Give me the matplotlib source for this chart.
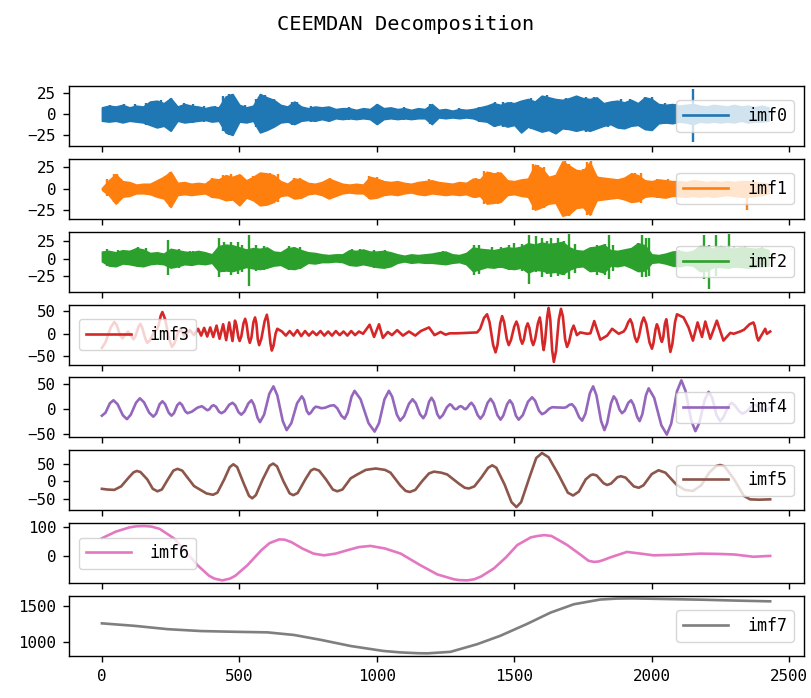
import numpy as np
import matplotlib
matplotlib.use("Agg")
import matplotlib.pyplot as plt
from matplotlib.lines import Line2D

plt.rcParams['font.family'] = ['DejaVu Sans Mono', 'DejaVu Sans']
plt.rcParams['axes.unicode_minus'] = True

# ---------------- data ----------------
names = ["imf0", "imf1", "imf2", "imf3", "imf4", "imf5", "imf6", "imf7"]
colors = ["#1f77b4", "#ff7f0e", "#2ca02c", "#d62728", "#9467bd", "#8c564b", "#e377c2", "#7f7f7f"]
title = "CEEMDAN Decomposition"
xticks = [0, 500, 1000, 1500, 2000, 2500]

# high-frequency IMFs: envelope of the dense oscillation sampled every 25 samples
env_x = np.arange(0, 2426, 25)
imf0_hi = [8, 10, 9, 11, 8, 10, 9, 15, 16, 13,
           19, 9, 12, 10, 9, 7, 9, 8, 21, 24,
           11, 8, 10, 24, 20, 17, 11, 9, 15, 9,
           7, 9, 8, 9, 6, 7, 7, 5, 7, 6,
           12, 7, 8, 6, 7, 5, 7, 6, 12, 5,
           6, 4, 6, 5, 6, 8, 10, 13, 11, 14,
           13, 16, 18, 15, 22, 20, 18, 17, 19, 22,
           19, 18, 20, 13, 15, 16, 14, 17, 13, 20,
           18, 12, 11, 12, 10, 11, 12, 10, 9, 11,
           10, 9, 11, 9, 10, 8, 10, 8]
imf0_lo = [-8, -9, -8, -10, -8, -9, -10, -13, -16, -14,
           -20, -8, -10, -9, -8, -7, -9, -8, -22, -25,
           -9, -10, -8, -22, -19, -15, -10, -9, -12, -8,
           -7, -8, -6, -8, -5, -6, -5, -6, -5, -6,
           -12, -6, -5, -6, -5, -6, -5, -5, -12, -4,
           -5, -4, -5, -4, -5, -8, -9, -14, -12, -15,
           -13, -22, -15, -18, -21, -19, -23, -17, -18, -20,
           -18, -20, -17, -14, -12, -16, -17, -14, -13, -18,
           -19, -11, -10, -11, -9, -10, -12, -9, -10, -9,
           -10, -9, -10, -8, -10, -9, -9, -8]
imf0_spike_x = [30, 80, 120, 160, 190, 215, 250, 300, 330, 370, 410, 440, 461, 475, 520, 560,
                578, 595, 625, 690, 710, 760, 830, 900, 1000, 1100, 1195, 1300, 1370, 1430,
                1460, 1490, 1523, 1560, 1600, 1620, 1640, 1690, 1730, 1760, 1790, 1840, 1890,
                1920, 1975, 2000, 2050, 2090, 2149]
imf0_spike_hi = [11, 12, 12, 13, 16, 17, 19, 13, 12, 10, 10, 22, 24, 24, 11, 18,
                 24, 23, 18, 15, 15, 10, 9, 8, 12, 8, 12, 7, 9, 14,
                 15, 15, 16, 19, 22, 23, 18, 19, 22, 20, 20, 15, 18,
                 18, 20, 21, 13, 12, 30]
imf0_spike_lo = [-10, -11, -10, -13, -16, -15, -20, -10, -11, -9, -10, -20, -25, -24, -10, -16,
                 -22, -20, -16, -13, -12, -9, -8, -7, -12, -7, -12, -6, -9, -15,
                 -16, -15, -22, -18, -21, -20, -23, -19, -20, -21, -19, -16, -17,
                 -16, -18, -19, -12, -11, -34]

imf1_hi = [1, 10, 17, 9, 8, 5, 6, 6, 10, 14,
           20, 7, 8, 6, 7, 6, 12, 11, 16, 14,
           17, 10, 14, 19, 18, 16, 9, 6, 12, 11,
           7, 6, 8, 12, 9, 6, 5, 6, 5, 14,
           12, 9, 8, 9, 7, 6, 8, 9, 10, 8,
           7, 6, 8, 7, 12, 11, 20, 18, 19, 10,
           9, 11, 12, 28, 24, 14, 16, 32, 27, 22,
           21, 31, 14, 13, 12, 11, 13, 18, 16, 10,
           9, 11, 10, 9, 9, 8, 10, 9, 8, 9,
           8, 9, 8, 9, 9, 8, 7, 6]
imf1_lo = [-1, -7, -17, -9, -8, -5, -5, -6, -9, -11,
           -21, -7, -6, -7, -6, -5, -9, -10, -13, -12,
           -19, -10, -13, -19, -18, -15, -8, -7, -11, -10,
           -6, -5, -7, -11, -8, -5, -4, -5, -5, -11,
           -10, -7, -6, -7, -5, -4, -6, -7, -5, -6,
           -7, -6, -7, -6, -9, -8, -17, -16, -15, -7,
           -6, -8, -9, -24, -21, -17, -16, -31, -29, -22,
           -21, -30, -13, -12, -11, -10, -12, -15, -14, -9,
           -8, -9, -10, -8, -8, -9, -8, -9, -8, -9,
           -8, -7, -8, -9, -9, -8, -7, -5]
imf1_spike_x = [20, 45, 55, 70, 210, 230, 248, 400, 440, 470, 505, 550, 590, 610, 640, 700,
                720, 830, 970, 1000, 1020, 1190, 1360, 1390, 1410, 1440, 1570, 1588, 1610,
                1650, 1683, 1700, 1720, 1750, 1765, 1780, 1800, 1900, 1930, 1940, 1960,
                2020, 2060, 2346]
imf1_spike_hi = [11, 17, 17, 12, 12, 15, 20, 13, 16, 17, 16, 15, 19, 19, 17, 13,
                 13, 13, 15, 14, 10, 11, 13, 21, 20, 20, 29, 28, 26,
                 16, 32, 29, 23, 23, 31, 33, 15, 13, 19, 18, 19,
                 11, 11, 9]
imf1_spike_lo = [-8, -15, -17, -10, -10, -12, -21, -10, -13, -14, -19, -14, -19, -18, -15, -12,
                 -11, -12, -12, -11, -8, -6, -10, -18, -17, -17, -25, -24, -22,
                 -18, -31, -31, -23, -22, -30, -30, -14, -12, -16, -15, -16,
                 -10, -10, -24]

imf2_hi = [10, 11, 9, 12, 11, 15, 13, 8, 9, 7,
           14, 12, 10, 9, 11, 9, 6, 18, 20, 19,
           16, 13, 15, 14, 16, 10, 9, 15, 16, 12,
           9, 8, 6, 5, 6, 6, 12, 11, 13, 10,
           10, 11, 9, 6, 4, 6, 5, 6, 7, 9,
           10, 6, 5, 8, 16, 14, 13, 12, 14, 16,
           15, 17, 22, 20, 23, 21, 22, 24, 16, 12,
           11, 16, 17, 20, 12, 11, 13, 15, 22, 19,
           6, 5, 7, 10, 11, 9, 11, 18, 17, 14,
           18, 15, 14, 16, 15, 14, 15, 12]
imf2_lo = [-4, -10, -11, -7, -8, -10, -11, -8, -7, -8,
           -13, -11, -8, -9, -7, -8, -6, -18, -17, -18,
           -15, -12, -14, -15, -13, -10, -9, -14, -15, -12,
           -6, -7, -5, -5, -4, -5, -9, -10, -8, -10,
           -12, -13, -11, -6, -4, -6, -5, -6, -6, -7,
           -8, -6, -5, -8, -18, -15, -12, -13, -11, -14,
           -15, -13, -20, -16, -17, -20, -19, -22, -16, -12,
           -11, -18, -17, -20, -10, -11, -9, -13, -18, -17,
           -6, -5, -7, -10, -11, -9, -10, -18, -17, -12,
           -12, -13, -11, -12, -13, -12, -11, -10]
imf2_spike_x = [20, 60, 110, 130, 160, 242, 280, 320, 330, 425, 445, 470, 495, 510, 535, 560,
                590, 680, 700, 720, 910, 940, 990, 1030, 1240, 1355, 1370, 1420, 1450, 1480,
                1500, 1530, 1553, 1580, 1600, 1620, 1635, 1660, 1680, 1700, 1720, 1800, 1830,
                1845, 1860, 1950, 1965, 1980, 1990, 2100, 2170, 2190, 2210, 2235, 2280, 2300,
                2340, 2400]
imf2_spike_hi = [14, 12, 13, 16, 15, 27, 14, 11, 11, 29, 24, 24, 24, 20, 34, 20,
                 18, 18, 17, 16, 14, 14, 12, 12, 11, 20, 20, 16, 16, 20,
                 22, 21, 34, 32, 30, 25, 30, 29, 26, 36, 21, 20, 21,
                 34, 20, 22, 34, 30, 30, 12, 12, 34, 20, 34, 36, 18,
                 18, 16]
imf2_spike_lo = [-11, -11, -8, -12, -11, -23, -14, -9, -9, -27, -20, -23, -22, -19, -39, -18,
                 -17, -17, -16, -15, -11, -11, -13, -14, -9, -23, -22, -14, -14, -16,
                 -17, -18, -37, -20, -27, -22, -27, -25, -24, -30, -21, -23, -24,
                 -30, -18, -17, -27, -26, -25, -12, -12, -30, -44, -25, -15, -14,
                 -14, -14]

# lower-frequency IMFs: points
imf3_x = [0, 13, 32, 45, 54, 66, 75, 95, 115, 122, 133, 140, 147, 158, 165, 175, 190, 200, 206, 214,
          220, 230, 245, 255, 264, 276, 285, 300, 320, 335,
          350, 361, 372, 383, 394, 405, 417, 428, 441, 452, 463, 475,
          484, 489, 496, 501, 507, 515, 521, 526, 533, 538, 544, 551, 557, 562, 567, 572,
          580, 592, 600, 605, 613, 618, 624, 632, 638,
          655, 669, 683, 697, 711, 725, 739, 753, 767, 781, 795, 809, 823, 837, 851, 865,
          879, 893, 907, 921, 935, 950,
          974, 990, 1008, 1022, 1040, 1055, 1074, 1095, 1117, 1140, 1160, 1190, 1210, 1232,
          1250, 1265, 1290, 1365,
          1376, 1390, 1401, 1410, 1423, 1432, 1439, 1449, 1456, 1463, 1473, 1480, 1488, 1500,
          1508, 1514, 1523, 1529, 1535, 1543, 1549, 1555, 1563, 1569, 1576, 1586, 1593, 1597,
          1603, 1607, 1612, 1620, 1625, 1631, 1638, 1644, 1652, 1662, 1670, 1677, 1685, 1692,
          1699, 1709, 1716, 1728, 1740, 1765, 1777, 1791, 1813, 1838, 1856, 1880, 1898,
          1905, 1915, 1922, 1929, 1939, 1946, 1953, 1964, 1971, 1980, 1992, 2001, 2006, 2014,
          2019, 2024, 2032, 2037, 2042, 2048, 2053, 2057, 2064, 2068, 2075, 2085, 2092,
          2116, 2134, 2150, 2167, 2183, 2195, 2213, 2237, 2261, 2286, 2298, 2322,
          2336, 2356, 2370, 2375, 2383, 2388, 2413, 2419, 2431]
imf3_v = [-31, -19, 14, 26, 19, -3, -10, 5, -12, -5, 15, 22, 13, -11, -20, -14, 4, 10, 18, 40,
          48, 32, -13, -29, -21, 2, 10, -5, 8, -3,
          11, -4, 13, -6, 14, -7, 18, -11, 21, -14, 25, -16,
          29, 20, -7, -16, -6, 23, 33, 22, -9, -20, -8, 25, 36, 23, -12, -25,
          -11, 28, 42, 26, -21, -37, -27, 1, 11,
          5, -4, 6, -4, 8, -5, 6, -4, 5, -3, 6, -4, 5, -4, 6, -3,
          5, -4, 6, -3, 5, 0,
          20, -7, 21, -9, 4, -3, 8, -4, 5, -4, 6, 14, -3, 4,
          -2, 1, 1, 3,
          11, 35, 43, 26, -24, -41, -25, 23, 39, 26, -12, -25, -14, 16,
          27, 17, -12, -22, -13, 14, 23, 13, -15, -25, -12, 23, 36, 21,
          -21, -36, -17, 38, 57, 32, -37, -62, -38, 31, 55, 38, -12, -29,
          -19, 8, 18, -3, 3, 0, 1, 28, -13, -4, 11, 0, 5,
          11, 26, 32, 22, -8, -18, -7, 25, 36, 22, -19, -33, -22, 10,
          21, 13, -10, -18, -8, 22, 32, 17, -25, -40, -23, 26, 43,
          36, 14, -15, 25, -7, 27, -11, 29, -15, 2, 0, 5,
          9, 21, 25, 17, -7, -15, 11, 0, 5]

imf4_x = [0, 13, 29, 42, 57, 76, 91, 105, 124, 138, 153, 172, 187, 197, 210, 220, 230, 243, 253,
          262, 274, 283, 291, 303, 311, 327, 347, 363, 369, 378, 384, 391, 399, 406, 415, 426,
          435, 447, 463, 475, 485, 497, 507, 518, 533, 544, 553, 566, 575, 590, 609, 624, 638,
          658, 672, 689, 710, 727, 735, 745, 753, 760, 771, 778, 788, 798, 812, 830, 844, 856,
          871, 883, 894, 908, 919, 941, 970, 992, 1008, 1028, 1044, 1056, 1073, 1085, 1099,
          1117, 1130, 1142, 1157, 1169, 1178, 1190, 1199, 1208, 1220, 1229, 1240, 1255, 1266,
          1272, 1280, 1286, 1292, 1299, 1305, 1310, 1318, 1323, 1329, 1338, 1344, 1354, 1367,
          1377, 1388, 1403, 1414, 1425, 1439, 1450, 1460, 1474, 1484, 1494, 1506, 1516, 1531,
          1550, 1565, 1576, 1590, 1601, 1612, 1627, 1638, 1680, 1689, 1701, 1710, 1721, 1736,
          1747, 1759, 1775, 1787, 1799, 1816, 1828, 1838, 1852, 1862, 1871, 1883, 1892, 1902,
          1915, 1925, 1934, 1947, 1956, 1966, 1979, 1989, 2009, 2035, 2055, 2071, 2092, 2108,
          2123, 2144, 2159, 2173, 2193, 2207, 2220, 2236, 2249, 2261, 2278, 2290, 2302, 2318,
          2330, 2344, 2362, 2375, 2386, 2400, 2410, 2431]
imf4_v = [-14, -8, 11, 17, 9, -13, -21, -12, 12, 21, 13, -8, -16, -10, 9, 15, 9, -8, -14,
          -9, 7, 12, 8, -5, -9, -6, 2, 5, 3, -1, -3, -1, 5, 7, 4, -6,
          -9, -5, 8, 12, 7, -7, -12, -6, 11, 17, 8, -18, -27, -12, 30, 45, 27,
          -25, -43, -29, 11, 25, 18, -4, -11, -8, 1, 4, 3, 1, 2, 6, 7, 1,
          -14, -20, -8, 24, 36, 19, -29, -46, -29, 19, 36, 24, -12, -24, -15,
          10, 19, 11, -11, -19, -11, 14, 22, 14, -11, -19, -13, 3, 9,
          7, 1, -1, 0, 4, 5, 4, 0, -1, 2, 9, 12, 5, -13,
          -20, -12, 12, 20, 11, -13, -22, -14, 9, 17, 9, -14, -22, -13,
          14, 23, 16, -4, -11, -8, 0, 3, 2, 3, 8, 9, 2, -17,
          -24, -10, 31, 45, 27, -25, -43, -29, 11, 25, 18, -2, -9, -4,
          12, 17, 8, -16, -25, -11, 27, 41, 22, -33, -52, -30, 35, 57,
          36, -24, -45, -29, 18, 34, 22, -13, -25, -17, 4, 12, 7, -5,
          -10, -6, 4, 8, 5, -2, -5, 2]

imf5_x = [0, 20, 45, 70, 95, 115, 127, 140, 165, 185, 202, 218, 240, 260, 275, 292, 335, 380,
          404, 420, 445, 465, 478, 492, 515, 535, 547, 560, 585, 610, 623, 637, 660, 683, 696,
          712, 740, 760, 772, 790, 815, 840, 856, 875, 905, 929, 960, 996, 1030, 1050, 1085,
          1105, 1120, 1140, 1165, 1190, 1208, 1235, 1256, 1300, 1320, 1335, 1355, 1380, 1405,
          1420, 1435, 1465, 1490, 1508, 1525, 1555, 1580, 1601, 1625, 1660, 1695, 1714, 1735,
          1760, 1778, 1787, 1800, 1825, 1838, 1852, 1875, 1888, 1905, 1935, 1953, 1970, 2000,
          2025, 2050, 2090, 2120, 2150, 2180, 2210, 2235, 2249, 2265, 2300, 2335, 2358, 2390, 2431]
imf5_v = [-22, -24, -25, -15, 8, 25, 29, 26, 5, -22, -29, -24, 5, 30, 35, 30, -14, -35,
          -39, -33, 5, 40, 48, 40, -5, -42, -49, -40, 5, 44, 50, 42, 0, -35, -40,
          -34, 5, 30, 35, 30, 5, -24, -29, -24, 8, 19, 32, 36, 32, 24, -12,
          -28, -31, -25, 0, 22, 27, 24, 19, -8, -19, -21, -15, 10, 38,
          45, 38, -10, -60, -74, -60, 10, 66, 80, 68, 20, -33, -41, -30,
          5, 17, 19, 16, -6, -11, -7, 11, 14, 10, -15, -19, -12, 20,
          31, 24, -10, -25, -28, -12, 25, 43, 46, 42, 5, -42, -52, -53, -52]

imf6_x = [0, 50, 100, 125, 154, 180, 210, 263, 305, 348, 390, 410, 438, 465, 485, 529, 580,
          610, 645, 665, 690, 729, 770, 808, 850, 893, 935, 977, 1030, 1087, 1159, 1220, 1280,
          1300, 1329, 1355, 1380, 1426, 1470, 1511, 1560, 1585, 1610, 1635, 1650, 1693, 1740,
          1770, 1789, 1805, 1820, 1850, 1910, 1960, 2007, 2090, 2178, 2240, 2300, 2370, 2431]
imf6_v = [62, 85, 100, 104, 105, 103, 95, 61, 15, -33, -70, -80, -86, -80, -70, -33, 20,
          45, 58, 57, 48, 26, 8, 2, 8, 20, 31, 35, 26, 8, -33, -65, -82,
          -85, -86, -82, -72, -44, -5, 38, 65, 70, 73, 70, 62, 38, 5,
          -17, -21, -20, -16, -5, 14, 8, 2, 4, 8, 7, 5, -3, 0]

imf7_x = [0, 118, 239, 360, 481, 602, 699, 796, 905, 1024, 1087, 1150, 1184, 1268, 1365,
          1450, 1547, 1632, 1717, 1813, 1874, 1930, 1995, 2177, 2298, 2431]
imf7_v = [1262, 1228, 1182, 1156, 1146, 1138, 1102, 1035, 950, 882, 862, 851, 849, 870, 975,
          1092, 1255, 1410, 1525, 1590, 1603, 1605, 1601, 1588, 1576, 1565]

ylims = [(-38.2, 33.8), (-34.7, 35.1), (-47.7, 38.8), (-68, 64.6),
         (-57.8, 63), (-83.4, 88), (-96, 115), (811, 1638)]
yticks = [[-25, 0, 25], [-25, 0, 25], [-25, 0, 25], [-50, 0, 50],
          [-50, 0, 50], [-50, 0, 50], [0, 100], [1000, 1500]]
legend_locs = ["center right", "center right", "center right", "center left",
               "center right", "center right", "center left", "center right"]

bands = [(imf0_hi, imf0_lo, imf0_spike_x, imf0_spike_hi, imf0_spike_lo),
         (imf1_hi, imf1_lo, imf1_spike_x, imf1_spike_hi, imf1_spike_lo),
         (imf2_hi, imf2_lo, imf2_spike_x, imf2_spike_hi, imf2_spike_lo)]
lines = [(imf3_x, imf3_v), (imf4_x, imf4_v), (imf5_x, imf5_v),
         (imf6_x, imf6_v), (imf7_x, imf7_v)]

# ---------------- figure ----------------
fig, axes = plt.subplots(8, 1, figsize=(8.11, 6.98), dpi=100, sharex=True)
fig.subplots_adjust(left=0.085, right=0.991, top=0.877, bottom=0.060, hspace=0.213)
fig.suptitle(title, fontsize=14.6, y=0.978)

LW = 1.9
for i, ax in enumerate(axes):
    c = colors[i]
    if i < 3:
        hi, lo, sx, shi, slo = bands[i]
        ax.fill_between(env_x, lo, hi, color=c, lw=1.2, edgecolor=c)
        ax.vlines(sx, slo, shi, color=c, lw=1.7)
        handle = [Line2D([], [], color=c, lw=LW)]
        ax.legend(handle, [names[i]], loc=legend_locs[i], fontsize=12,
                  handlelength=2.7, handletextpad=1.15, borderaxespad=0.6)
    else:
        xs, vs = lines[i - 3]
        ax.plot(xs, vs, color=c, lw=LW, label=names[i])
        ax.legend(loc=legend_locs[i], fontsize=12,
                  handlelength=2.7, handletextpad=1.15, borderaxespad=0.6)
    ax.set_ylim(*ylims[i])
    ax.set_yticks(yticks[i])
    ax.set_xlim(-120, 2553)
    ax.set_xticks(xticks)
    ax.tick_params(labelsize=11.4, length=4.6, width=1.0, pad=4.5)
    for s in ax.spines.values():
        s.set_linewidth(1.0)

fig.savefig("out.png", dpi=100)
